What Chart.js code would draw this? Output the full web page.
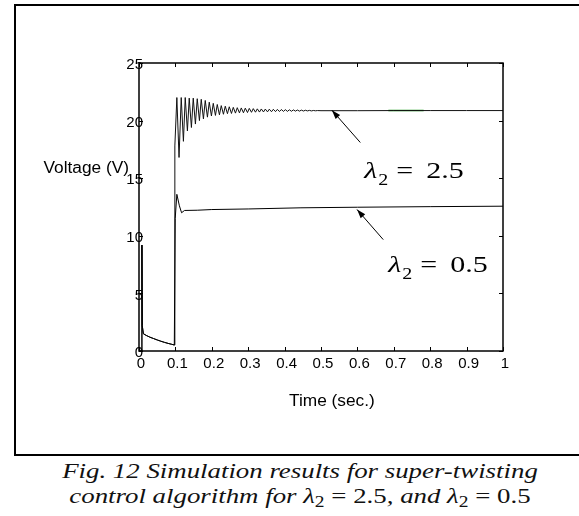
<!DOCTYPE html>
<html>
<head>
<meta charset="utf-8">
<script src="https://cdn.jsdelivr.net/npm/chart.js@4.4.1/dist/chart.umd.min.js"></script>
<style>
  html, body { margin: 0; padding: 0; background: #fff; overflow: hidden; }
  #page { position: relative; width: 579px; height: 516px; overflow: hidden; }
  #frame { position: absolute; left: 14px; top: 4px; width: 900px; height: 448px; border-right: none;
           border-left: 2px solid #000; border-top: 2px solid #000; border-bottom: 2px solid #000; }
  #chart { position: absolute; left: 0; top: 0; }
  #caption { position: absolute; left: 16px; top: 458px; width: 568px; text-align: center;
             font-family: "Liberation Serif", "Times New Roman", serif; font-style: italic;
             font-size: 22px; line-height: 25px; color: #111;
             transform: scaleX(1.22); transform-origin: 284px 0; }
  #caption .m { font-style: normal; }
  #caption sub { font-size: 16px; font-style: normal; vertical-align: -4px; line-height: 0; }
</style>
</head>
<body>
<div id="page">
  <div id="frame"></div>
  <canvas id="chart" width="579" height="452"></canvas>
  <div id="caption">Fig. 12 Simulation results for super-twisting<br>control algorithm for <i>λ</i><sub>2</sub><span class="m"> = 2.5</span>, and <i>λ</i><sub>2</sub><span class="m"> = 0.5</span></div>
</div>
<script>
// time (s) and voltage (V)
const timeA = [0, 0.007, 0.008, 0.009, 0.012, 0.02, 0.03, 0.04, 0.05, 0.06, 0.07, 0.08, 0.09, 0.097,
  0.0985, 0.104, 0.11, 0.116, 0.122, 0.127, 0.133, 0.138, 0.144, 0.149, 0.155, 0.16, 0.166, 0.171,
  0.177, 0.182, 0.188, 0.193, 0.199, 0.204, 0.21, 0.215, 0.221, 0.226, 0.232, 0.237, 0.243, 0.248,
  0.254, 0.259, 0.265, 0.27, 0.276, 0.281, 0.287, 0.292, 0.298, 0.303, 0.309, 0.314, 0.32, 0.325,
  0.331, 0.336, 0.342, 0.347, 0.353, 0.358, 0.364, 0.369, 0.375, 0.38, 0.386, 0.391, 0.397, 0.402,
  0.408, 0.413, 0.419, 0.424, 0.43, 0.435, 0.441, 0.446, 0.452, 0.457, 0.463, 0.468, 0.474, 0.479,
  0.485, 0.49, 0.5, 0.6, 0.7, 0.8, 0.9, 1.0];
const voltA = [0, 0, 9.2, 2.2, 1.5, 1.35, 1.2, 1.08, 0.96, 0.85, 0.75, 0.66, 0.58, 0.52,
  17.8, 22.0, 16.8, 22.0, 18.2, 22.0, 19.1, 21.95, 19.4, 21.95, 19.7, 21.9, 20.0, 21.85,
  20.15, 21.75, 20.3, 21.6, 20.4, 21.5, 20.45, 21.4, 20.5, 21.3, 20.55, 21.25, 20.6, 21.2,
  20.62, 21.15, 20.65, 21.12, 20.67, 21.1, 20.68, 21.08, 20.7, 21.06, 20.72, 21.04, 20.73, 21.02,
  20.74, 21.01, 20.75, 21.0, 20.76, 20.99, 20.77, 20.98, 20.78, 20.97, 20.79, 20.96, 20.8, 20.95,
  20.8, 20.94, 20.81, 20.93, 20.82, 20.92, 20.82, 20.91, 20.83, 20.9, 20.84, 20.89, 20.84, 20.88,
  20.85, 20.87, 20.86, 20.86, 20.87, 20.87, 20.87, 20.87];
const timeB = [0, 0.007, 0.008, 0.009, 0.012, 0.02, 0.03, 0.04, 0.05, 0.06, 0.07, 0.08, 0.09, 0.097,
  0.0995, 0.104, 0.111, 0.117, 0.125, 0.16, 0.2, 0.3, 0.445, 0.6, 0.8, 1.0];
const voltB = [0, 0, 9.2, 2.2, 1.5, 1.35, 1.2, 1.08, 0.96, 0.85, 0.75, 0.66, 0.58, 0.52,
  11.5, 13.6, 12.6, 12.0, 12.2, 12.22, 12.28, 12.33, 12.43, 12.48, 12.53, 12.57];
const timeGreen = [0.685, 0.782];
const voltGreen = [20.87, 20.87];
const xTickLabels = ['0', '0.1', '0.2', '0.3', '0.4', '0.5', '0.6', '0.7', '0.8', '0.9', '1'];
const yTickLabels = ['0', '5', '10', '15', '20', '25'];

const pts = (xs, ys) => xs.map((x, i) => ({ x: x, y: ys[i] }));

const overlay = {
  id: 'overlay',
  afterDatasetsDraw(chart) {
    const { ctx, chartArea: a, scales: { x, y } } = chart;
    ctx.save();
    ctx.strokeStyle = '#000';
    ctx.lineWidth = 1.5;
    ctx.strokeRect(a.left, a.top, a.right - a.left, a.bottom - a.top);

    // MATLAB-style inward ticks
    ctx.lineWidth = 1;
    ctx.beginPath();
    x.ticks.forEach(t => {
      const px = Math.round(x.getPixelForValue(t.value)) + 0.5;
      ctx.moveTo(px, a.bottom); ctx.lineTo(px, a.bottom - 4);
      ctx.moveTo(px, a.top); ctx.lineTo(px, a.top + 4);
    });
    y.ticks.forEach(t => {
      const py = Math.round(y.getPixelForValue(t.value)) + 0.5;
      ctx.moveTo(a.left, py); ctx.lineTo(a.left + 4, py);
      ctx.moveTo(a.right, py); ctx.lineTo(a.right - 4, py);
    });
    ctx.stroke();

    // y tick labels: in the original they run over the axis line, which the
    // scale's own (clipped) labels cannot do
    ctx.fillStyle = '#000';
    ctx.font = '15px "Liberation Sans", Arial, sans-serif';
    ctx.textAlign = 'right';
    ctx.textBaseline = 'middle';
    y.ticks.forEach((t, i) => {
      ctx.fillText(yTickLabels[i], a.left + 4, y.getPixelForValue(t.value) + 2);
    });

    // axis titles (the source image is stretched sideways a bit)
    const stretched = (txt, px, py, font, sx, align) => {
      ctx.save();
      ctx.translate(px, py);
      ctx.scale(sx, 1);
      ctx.font = font;
      ctx.textAlign = align;
      ctx.fillText(txt, 0, 0);
      ctx.restore();
    };
    stretched('Voltage (V)', a.left - 10, y.getPixelForValue(15.85), '16px "Liberation Sans", Arial, sans-serif', 1.08, 'right');
    stretched('Time (sec.)', x.getPixelForValue(0.53), a.bottom + 51, '16px "Liberation Sans", Arial, sans-serif', 1.08, 'center');

    // annotations
    const arrow = (t0, v0, t1, v1) => {
      const x0 = x.getPixelForValue(t0), y0 = y.getPixelForValue(v0);
      const x1 = x.getPixelForValue(t1), y1 = y.getPixelForValue(v1);
      const ang = Math.atan2(y1 - y0, x1 - x0);
      ctx.beginPath();
      ctx.moveTo(x0, y0); ctx.lineTo(x1, y1);
      ctx.stroke();
      ctx.beginPath();
      ctx.moveTo(x1, y1);
      ctx.lineTo(x1 - 9 * Math.cos(ang) + 3 * Math.sin(ang), y1 - 9 * Math.sin(ang) - 3 * Math.cos(ang));
      ctx.lineTo(x1 - 9 * Math.cos(ang) - 3 * Math.sin(ang), y1 - 9 * Math.sin(ang) + 3 * Math.cos(ang));
      ctx.closePath();
      ctx.fill();
    };
    arrow(0.608, 18.1, 0.530, 20.9);
    arrow(0.671, 9.67, 0.599, 12.28);

    const label = (t, v, val) => {
      const px = x.getPixelForValue(t);
      const py = y.getPixelForValue(v);
      ctx.textBaseline = 'alphabetic';
      const serif = '"Liberation Serif", "Times New Roman", serif';
      stretched('λ', px, py, 'italic 24px ' + serif, 1.25, 'left');
      stretched('2', px + 14, py + 7, '16px ' + serif, 1.25, 'left');
      stretched('=', px + 32, py, '24px ' + serif, 1.25, 'left');
      stretched(val, px + 62, py, '24px ' + serif, 1.25, 'left');
    };
    label(0.619, 15.04, '2.5');
    label(0.685, 6.9, '0.5');
    ctx.restore();
  }
};

new Chart(document.getElementById('chart'), {
  type: 'scatter',
  data: {
    datasets: [
      { label: 'λ2 = 0.5', data: pts(timeB, voltB), showLine: true, borderColor: '#000',
        borderWidth: 1, pointRadius: 0, tension: 0 },
      { label: 'λ2 = 2.5', data: pts(timeA, voltA), showLine: true, borderColor: '#111',
        borderWidth: 1, pointRadius: 0, tension: 0 },
      { label: 'seg', data: pts(timeGreen, voltGreen), showLine: true, borderColor: '#1a9a1a',
        borderWidth: 1.5, pointRadius: 0 }
    ]
  },
  options: {
    responsive: false,
    animation: false,
    devicePixelRatio: 1,
    layout: { padding: { left: 0, right: 76, top: 63, bottom: 0 } },
    plugins: { legend: { display: false }, tooltip: { enabled: false } },
    scales: {
      x: {
        type: 'linear', min: 0, max: 1,
        grid: { display: false, drawTicks: false }, border: { display: false },
        ticks: { stepSize: 0.1, padding: 4, labelOffset: 2, color: '#000', maxRotation: 0,
                 font: { family: '"Liberation Sans", Arial, sans-serif', size: 15 },
                 callback: (v, i) => xTickLabels[i] },
        afterFit: s => { s.height = 101; }
      },
      y: {
        type: 'linear', min: 0, max: 25,
        grid: { display: false, drawTicks: false }, border: { display: false },
        ticks: { display: false, stepSize: 5 },
        afterFit: s => { s.width = 139; }
      }
    }
  },
  plugins: [overlay]
});
</script>
</body>
</html>
